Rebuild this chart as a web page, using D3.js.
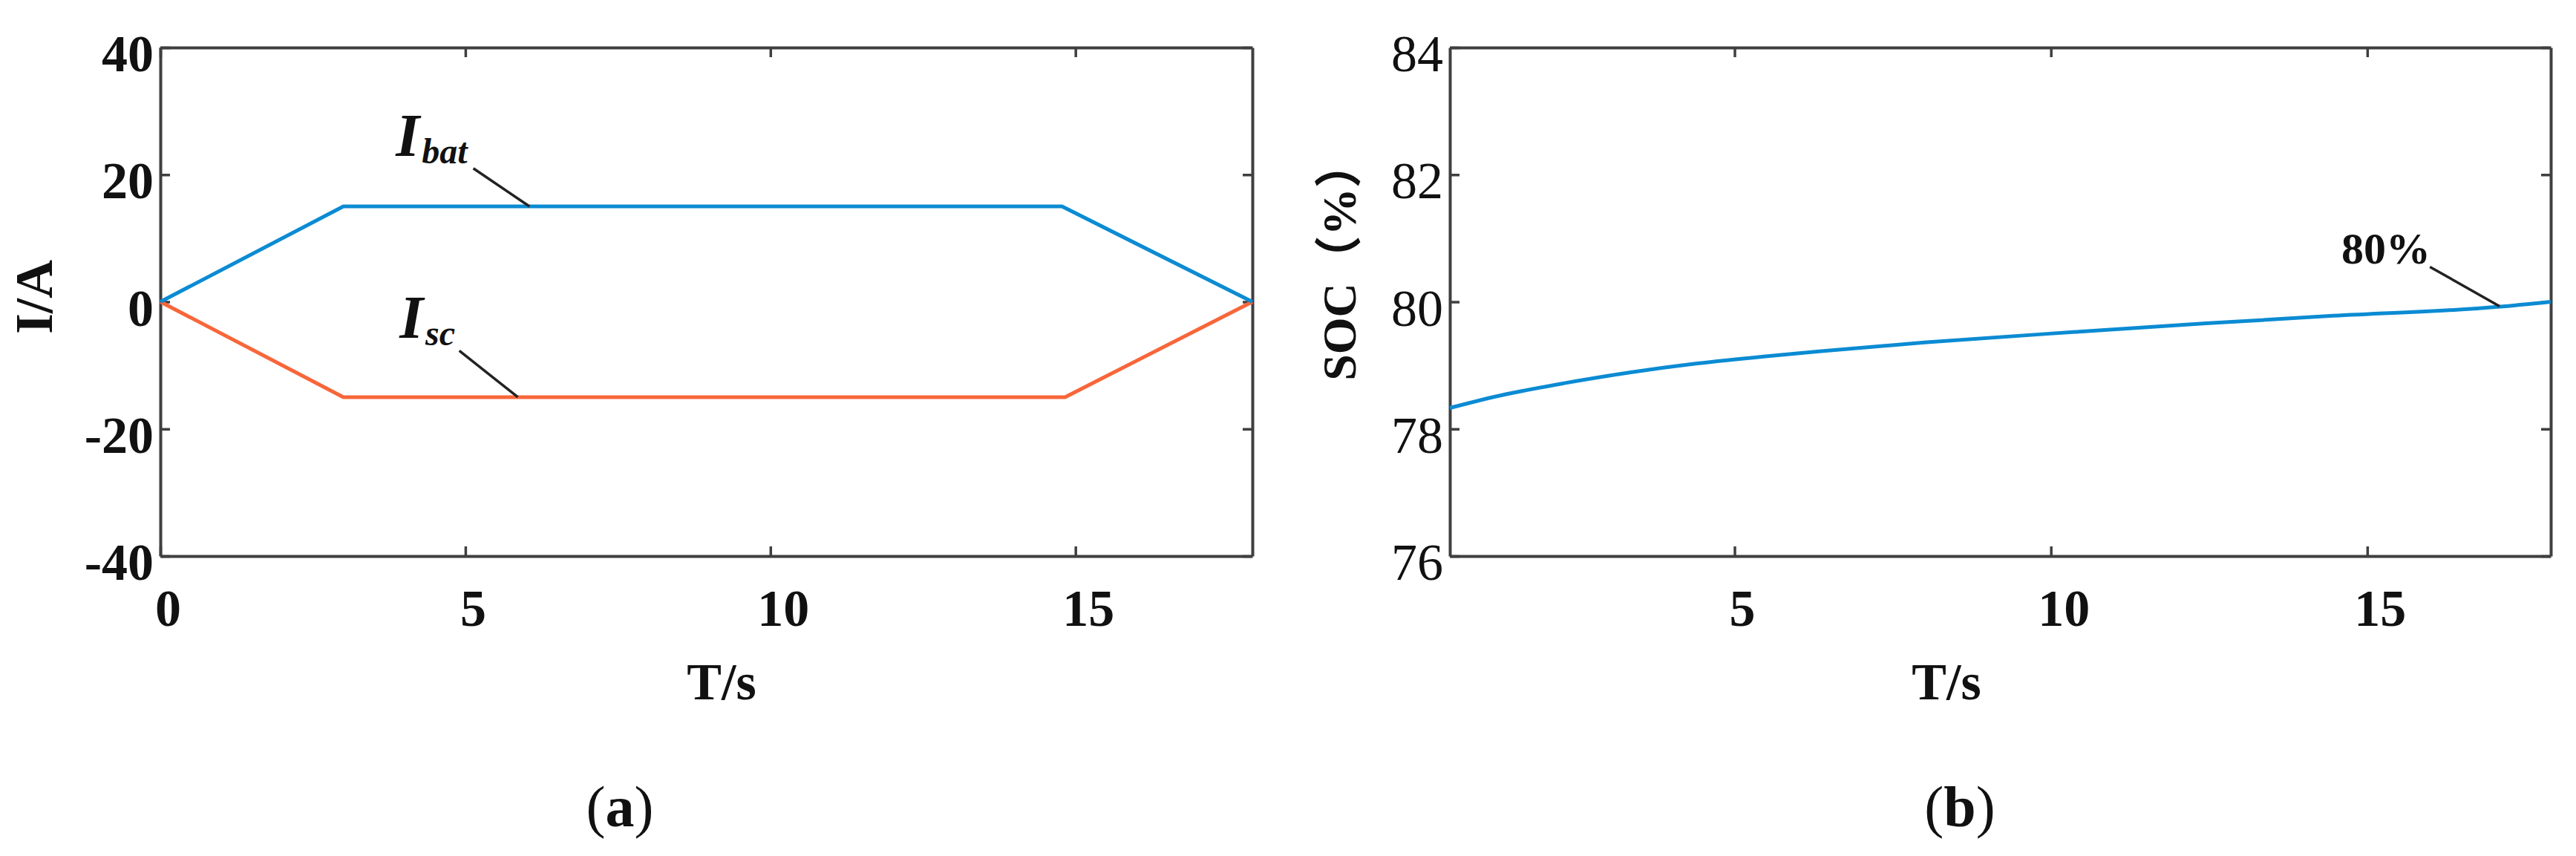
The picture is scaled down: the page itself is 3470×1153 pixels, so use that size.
<!DOCTYPE html>
<html>
<head>
<meta charset="utf-8">
<script src="https://cdn.jsdelivr.net/npm/d3@7"></script>
<style>
  html, body { margin: 0; padding: 0; background: #fff; }
  svg { display: block; }
  text { font-family: 'Liberation Serif', 'Times New Roman', serif; }
</style>
</head>
<body>
<svg id="chart" width="3470" height="1153"></svg>
<script>
// ---------- data ----------
// Panel (a): currents vs time
const timeA = [0, 3.0, 14.78, 17.9];
const iBat  = [0, 15, 15, 0];
const timeSc = [0, 3.0, 14.83, 17.9];
const iSc   = [0, -15, -15, 0];
const xTicksA = [0, 5, 10, 15];
const yTicksA = [40, 20, 0, -20, -40];

// Panel (b): SOC vs time
const socTime  = [0.5, 1.27, 2.31, 3.36, 4.41, 5.46, 6.34, 8.0, 10.45, 12.45, 14.46, 17.07, 17.9];
const socValue = [78.33, 78.52, 78.72, 78.89, 79.03, 79.14, 79.22, 79.36, 79.53, 79.66, 79.78, 79.92, 80.0];
const xTicksB = [5, 10, 15];
const yTicksB = [84, 82, 80, 78, 76];

// ---------- drawing ----------
const svg = d3.select("#chart");
const SERIF = "'Liberation Serif', 'Times New Roman', serif";
const AXIS_COLOR = "#3f3f3f";
const BLUE = "#0b8bd3";
const ORANGE = "#f8663a";
const fmt = d => String(d);

function panel(cfg) {
  const g = svg.append("g");
  const x = d3.scaleLinear().domain(cfg.xDomain).range([cfg.left, cfg.right]);
  const y = d3.scaleLinear().domain(cfg.yDomain).range([cfg.bottom, cfg.top]);
  const tick = 13;

  // bottom axis
  const gb = g.append("g").attr("transform", `translate(0,${cfg.bottom})`)
    .call(d3.axisBottom(x).tickValues(cfg.xTicks).tickSizeInner(-tick).tickSizeOuter(0).tickFormat(fmt));
  gb.selectAll("text")
    .attr("y", 94).attr("dy", "0").attr("dx", d => (String(d).length > 1 ? 17 : 10))
    .style("font-family", SERIF).attr("font-weight", "bold").attr("font-size", 70).attr("fill", "#111");
  // top axis
  g.append("g").attr("transform", `translate(0,${cfg.top})`)
    .call(d3.axisTop(x).tickValues(cfg.xTicks).tickSizeInner(-tick).tickSizeOuter(0).tickFormat(""));
  // left axis
  const gl = g.append("g").attr("transform", `translate(${cfg.left},0)`)
    .call(d3.axisLeft(y).tickValues(cfg.yTicks).tickSizeInner(-tick).tickSizeOuter(0).tickPadding(9).tickFormat(fmt));
  gl.selectAll("text")
    .attr("dy", "0.45em")
    .style("font-family", SERIF).attr("font-weight", cfg.yBold ? "bold" : "normal")
    .attr("font-size", 70).attr("fill", "#111");
  // right axis
  g.append("g").attr("transform", `translate(${cfg.right},0)`)
    .call(d3.axisRight(y).tickValues(cfg.yTicks).tickSizeInner(-tick).tickSizeOuter(0).tickFormat(""));

  g.selectAll(".domain, .tick line").attr("stroke", AXIS_COLOR).attr("stroke-width", 3.5);
  g.selectAll(".domain").attr("stroke-width", 4);

  // x label
  g.append("text")
    .attr("x", cfg.xLabelX).attr("y", 942)
    .attr("text-anchor", "middle")
    .style("font-family", SERIF).attr("font-weight", "bold").attr("font-size", 70).attr("fill", "#111")
    .text("T/s");

  // panel caption
  const cap = g.append("text")
    .attr("x", cfg.captionX).attr("y", 1113)
    .attr("text-anchor", "middle")
    .style("font-family", SERIF).attr("font-size", 78).attr("fill", "#111");
  cap.append("tspan").text("(");
  cap.append("tspan").attr("font-weight", "bold").text(cfg.caption);
  cap.append("tspan").text(")");

  return { g, x, y };
}

// Panel (a)
const A = panel({
  left: 216, right: 1687, top: 64, bottom: 749,
  xDomain: [0, 17.9], yDomain: [-40, 40],
  xTicks: xTicksA, yTicks: yTicksA, yBold: true,
  xLabelX: 972, captionX: 835, caption: "a"
});

const lineA = d3.line().x(d => A.x(d[0])).y(d => A.y(d[1]));
A.g.append("path").datum(d3.zip(timeSc, iSc))
  .attr("d", lineA).attr("fill", "none").attr("stroke", ORANGE).attr("stroke-width", 5).attr("stroke-linejoin", "round");
A.g.append("path").datum(d3.zip(timeA, iBat))
  .attr("d", lineA).attr("fill", "none").attr("stroke", BLUE).attr("stroke-width", 5).attr("stroke-linejoin", "round");

// y label (a)
A.g.append("text")
  .attr("transform", "translate(70,400) rotate(-90)")
  .attr("text-anchor", "middle")
  .style("font-family", SERIF).attr("font-weight", "bold").attr("font-size", 72).attr("fill", "#111")
  .text("I/A");

// annotations (a)
function subLabel(panelObj, tx, vy, main, sub) {
  const t = panelObj.g.append("text")
    .attr("x", panelObj.x(tx)).attr("y", panelObj.y(vy))
    .style("font-family", SERIF).attr("font-weight", "bold").attr("font-style", "italic")
    .attr("font-size", 82).attr("fill", "#111");
  t.append("tspan").text(main);
  t.append("tspan").attr("font-size", 48).attr("dy", 10).attr("dx", 3).text(sub);
}
function leader(panelObj, t0, v0, t1, v1) {
  panelObj.g.append("line")
    .attr("x1", panelObj.x(t0)).attr("y1", panelObj.y(v0))
    .attr("x2", panelObj.x(t1)).attr("y2", panelObj.y(v1))
    .attr("stroke", "#222").attr("stroke-width", 3.5);
}
subLabel(A, 3.86, 23.0, "I", "bat");
leader(A, 5.13, 21.0, 6.05, 15.0);
subLabel(A, 3.92, -5.7, "I", "sc");
leader(A, 4.9, -7.7, 5.86, -15.0);

// Panel (b)
const B = panel({
  left: 1953, right: 3436, top: 64, bottom: 749,
  xDomain: [0.5, 17.9], yDomain: [76, 84],
  xTicks: xTicksB, yTicks: yTicksB, yBold: false,
  xLabelX: 2622, captionX: 2640, caption: "b"
});

const lineB = d3.line().curve(d3.curveMonotoneX).x(d => B.x(d[0])).y(d => B.y(d[1]));
B.g.append("path").datum(d3.zip(socTime, socValue))
  .attr("d", lineB).attr("fill", "none").attr("stroke", BLUE).attr("stroke-width", 5);

// y label (b)
B.g.append("text")
  .attr("transform", "translate(1826,351) rotate(-90)")
  .attr("text-anchor", "middle")
  .style("font-family", SERIF + ", 'Noto Sans CJK SC'").attr("font-weight", "bold").attr("font-size", 64).attr("fill", "#111")
  .text("SOC（%）");

// annotation (b)
B.g.append("text")
  .attr("x", B.x(14.59)).attr("y", B.y(80.6))
  .style("font-family", SERIF).attr("font-weight", "bold").attr("font-size", 60).attr("fill", "#111")
  .text("80%");
leader(B, 15.99, 80.55, 17.09, 79.93);
</script>
</body>
</html>
